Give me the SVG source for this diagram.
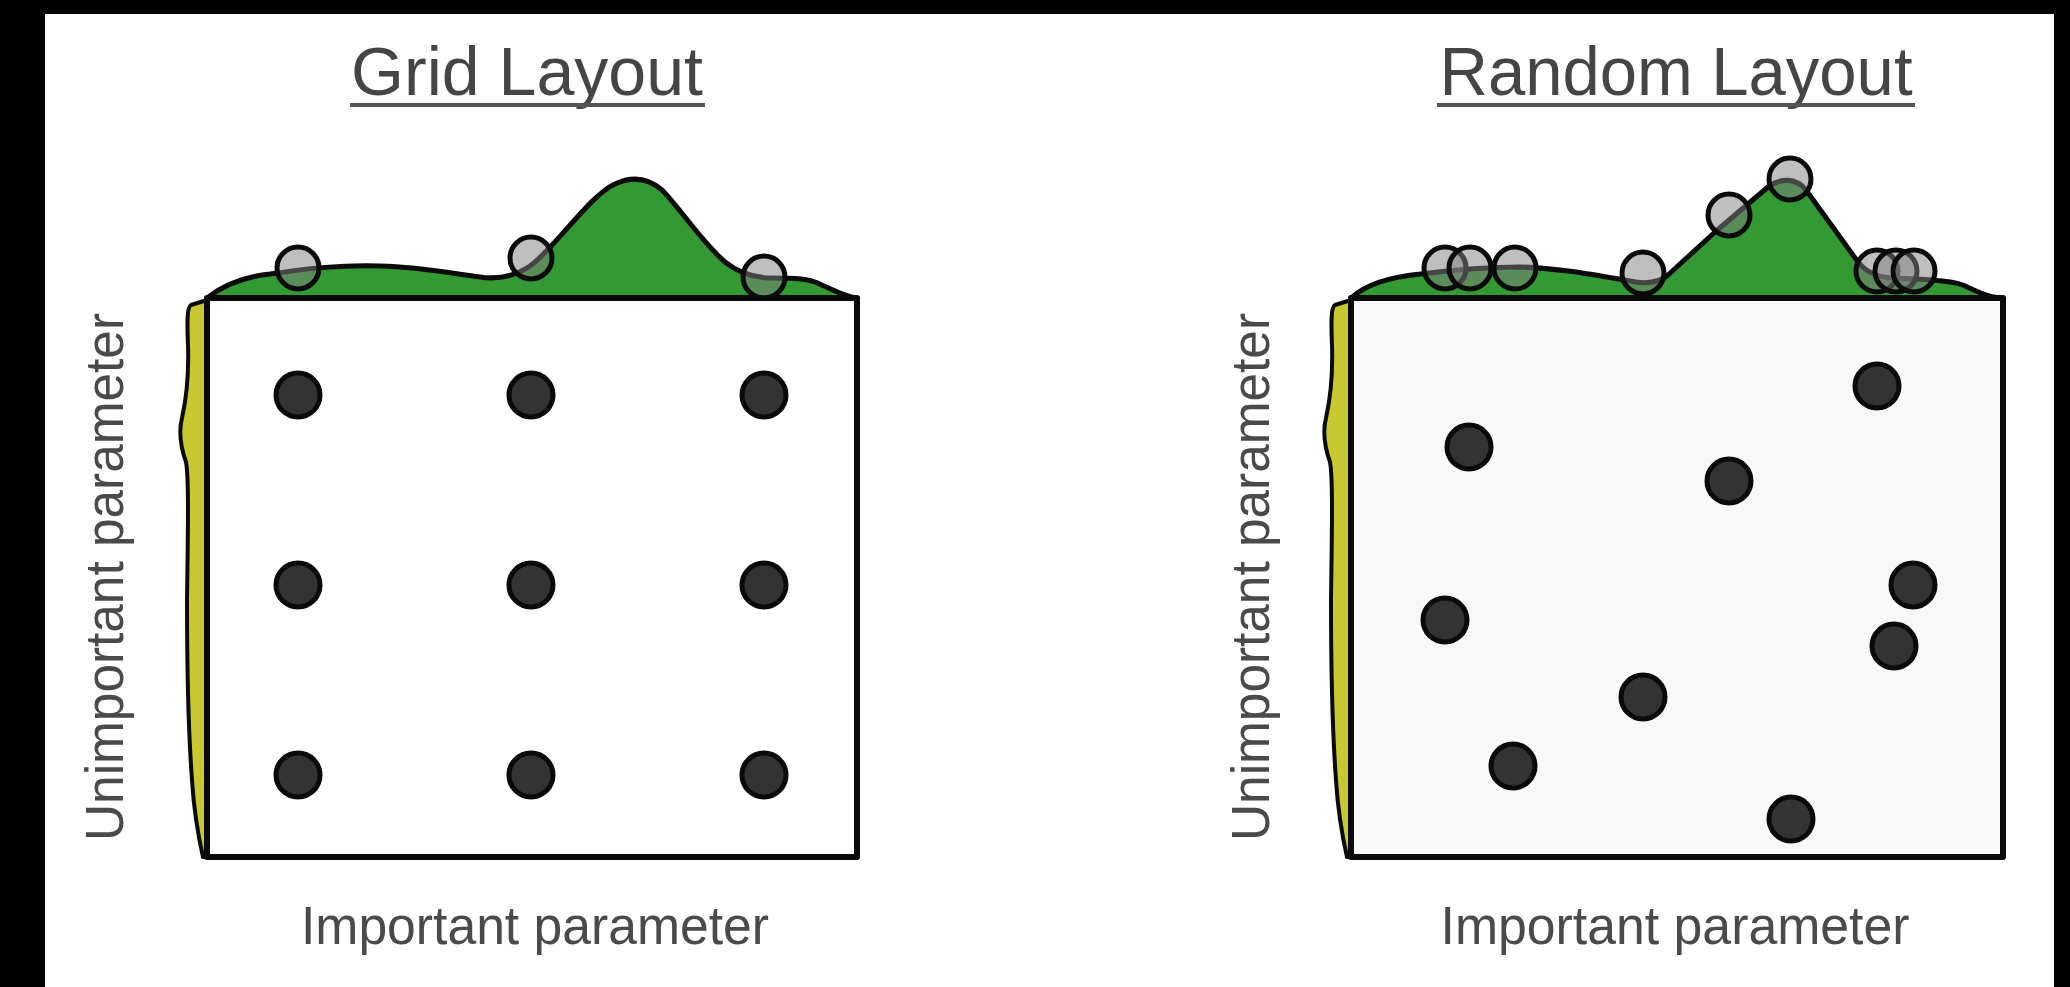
<svg xmlns="http://www.w3.org/2000/svg" width="2070" height="987" viewBox="0 0 2070 987">
<style>
.title{font-family:"Liberation Sans",Arial,sans-serif;font-size:68px;fill:#454545}
.label{font-family:"Liberation Sans",Arial,sans-serif;font-size:54px;fill:#4a4a4a}
.box{stroke:#0a0a0a;stroke-width:6;stroke-linejoin:round}
.kde{fill:#339933;stroke:#0a0a0a;stroke-width:5;stroke-linejoin:round}
.ykde{fill:#c8c832;stroke:#0a0a0a;stroke-width:4;stroke-linejoin:round}
.dot{fill:#333333;stroke:#0a0a0a;stroke-width:5}
.proj{fill:#808080;fill-opacity:0.5;stroke:#0a0a0a;stroke-width:5}
.ul{fill:#555555}
</style>
<rect x="0" y="0" width="2070" height="987" fill="#000000"/>
<rect x="45" y="14" width="2009" height="973" fill="#ffffff"/>

<g id="grid-layout">
  <g id="grid-title">
    <text class="title" x="527" y="95" text-anchor="middle" textLength="352" lengthAdjust="spacingAndGlyphs">Grid Layout</text>
    <rect class="ul" x="350" y="103" width="355" height="4"/>
  </g>
  <g id="grid-top-density">
    <path class="kde" d="M207,298 C222,286 242,277 270,274 C310,268 340,265 380,266 C420,267 450,273 480,277 C500,280 515,276 530,266 C555,248 590,195 615,184 C632,176 648,178 662,190 C680,208 700,240 725,262 C740,274 755,278 772,278 C790,278 803,278 815,282 C830,288 842,296 857,298 Z"/>
  </g>
  <g id="grid-left-density">
    <path class="ykde" d="M207,300 L191,305 C187,307 187,322 188,345 C189,375 186,400 182,418 C178,434 181,448 186,462 C189,478 188,530 187,600 C187,680 189,740 192,780 C194,812 198,835 203,857 L207,857 Z"/>
  </g>
  <g id="grid-box">
    <rect class="box" x="207" y="298" width="650" height="559" fill="#ffffff"/>
  </g>
  <g id="grid-projections">
    <circle class="proj" cx="298" cy="268" r="21"/>
    <circle class="proj" cx="531" cy="258" r="21"/>
    <circle class="proj" cx="764" cy="277" r="21"/>
  </g>
  <g id="grid-points">
    <circle class="dot" cx="298" cy="395" r="22"/>
    <circle class="dot" cx="531" cy="395" r="22"/>
    <circle class="dot" cx="764" cy="395" r="22"/>
    <circle class="dot" cx="298" cy="585" r="22"/>
    <circle class="dot" cx="531" cy="585" r="22"/>
    <circle class="dot" cx="764" cy="585" r="22"/>
    <circle class="dot" cx="298" cy="775" r="22"/>
    <circle class="dot" cx="531" cy="775" r="22"/>
    <circle class="dot" cx="764" cy="775" r="22"/>
  </g>
  <g id="grid-xlabel">
    <text class="label" x="535" y="944" text-anchor="middle" textLength="468" lengthAdjust="spacingAndGlyphs">Important parameter</text>
  </g>
  <g id="grid-ylabel">
    <text class="label" transform="translate(123,577) rotate(-90)" x="0" y="0" text-anchor="middle" textLength="528" lengthAdjust="spacingAndGlyphs">Unimportant parameter</text>
  </g>
</g>

<g id="random-layout">
  <g id="random-title">
    <text class="title" x="1676" y="95" text-anchor="middle" textLength="473" lengthAdjust="spacingAndGlyphs">Random Layout</text>
    <rect class="ul" x="1437" y="103" width="478" height="4"/>
  </g>
  <g id="random-top-density">
    <path class="kde" d="M1351,298 C1365,285 1390,277 1420,274 C1460,269 1490,267 1520,267 C1560,268 1600,276 1636,282 C1650,284 1660,282 1668,275 L1715,232 L1768,187 C1780,178 1796,177 1806,190 L1858,262 C1866,272 1876,277 1892,278 C1920,279 1948,280 1963,285 C1978,292 1990,298 2003,298 Z"/>
  </g>
  <g id="random-left-density">
    <path class="ykde" d="M1351,300 L1335,305 C1331,307 1331,322 1332,345 C1333,375 1330,400 1326,418 C1322,434 1325,448 1330,462 C1333,478 1332,530 1331,600 C1331,680 1333,740 1336,780 C1338,812 1342,835 1347,857 L1351,857 Z"/>
  </g>
  <g id="random-box">
    <rect class="box" x="1351" y="298" width="652" height="559" fill="#f8f8f8"/>
  </g>
  <g id="random-projections">
    <circle class="proj" cx="1445" cy="268" r="21"/>
    <circle class="proj" cx="1470" cy="268" r="21"/>
    <circle class="proj" cx="1515" cy="268" r="21"/>
    <circle class="proj" cx="1643" cy="273" r="21"/>
    <circle class="proj" cx="1729" cy="215" r="21"/>
    <circle class="proj" cx="1790" cy="179" r="21"/>
    <circle class="proj" cx="1877" cy="271" r="21"/>
    <circle class="proj" cx="1896" cy="271" r="21"/>
    <circle class="proj" cx="1914" cy="271" r="21"/>
  </g>
  <g id="random-points">
    <circle class="dot" cx="1877" cy="386" r="22"/>
    <circle class="dot" cx="1469" cy="447" r="22"/>
    <circle class="dot" cx="1729" cy="481" r="22"/>
    <circle class="dot" cx="1913" cy="585" r="22"/>
    <circle class="dot" cx="1445" cy="620" r="22"/>
    <circle class="dot" cx="1894" cy="646" r="22"/>
    <circle class="dot" cx="1643" cy="697" r="22"/>
    <circle class="dot" cx="1513" cy="766" r="22"/>
    <circle class="dot" cx="1791" cy="819" r="22"/>
  </g>
  <g id="random-xlabel">
    <text class="label" x="1675" y="944" text-anchor="middle" textLength="469" lengthAdjust="spacingAndGlyphs">Important parameter</text>
  </g>
  <g id="random-ylabel">
    <text class="label" transform="translate(1269,577) rotate(-90)" x="0" y="0" text-anchor="middle" textLength="528" lengthAdjust="spacingAndGlyphs">Unimportant parameter</text>
  </g>
</g>
</svg>
